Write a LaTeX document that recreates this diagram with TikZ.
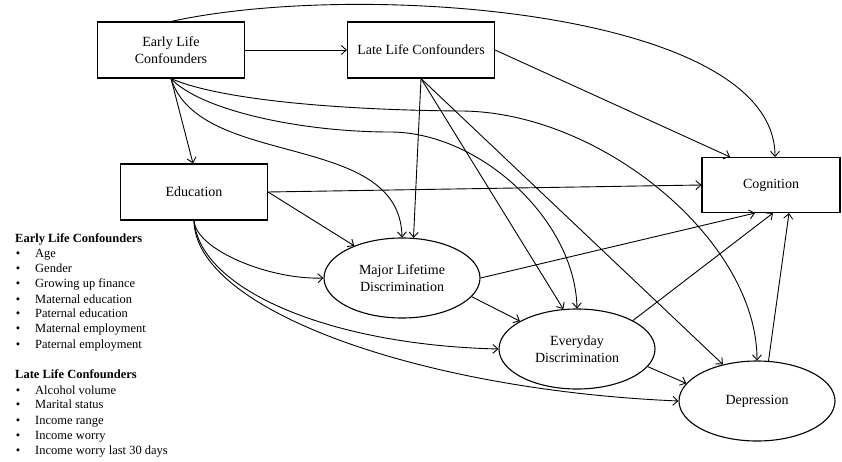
\documentclass[tikz,border=0pt]{standalone}
\usepackage{fontspec}
\setmainfont{Liberation Serif}
\usetikzlibrary{arrows.meta,shapes.geometric}
\begin{document}
\begin{tikzpicture}[x=1pt,y=-1pt,
 box/.style={draw,line width=1.1pt,minimum width=147pt,minimum height=56pt,inner sep=0pt,align=center,font=\fontsize{14}{17}\selectfont},
 oval/.style={draw,ellipse,line width=1.1pt,minimum width=156pt,minimum height=80pt,inner sep=0pt,align=center,font=\fontsize{14}{17}\selectfont},
 arr/.style={line width=0.9pt,-{Straight Barb[length=5pt,width=9pt]}},
 leg/.style={anchor=base west,inner sep=0pt,font=\fontsize{12.5}{15}\selectfont},
 bul/.style={anchor=base,inner sep=0pt,font=\fontsize{12.5}{15}\selectfont},
 ]
\useasboundingbox (0,0) rectangle (842,462);
\fill[white] (0,0) rectangle (842,462);
% nodes
\node[box] (early) at (171,50) {Early Life\\Confounders};
\node[box] (late) at (421,50) {Late Life Confounders};
\node[box] (edu) at (194,192) {Education};
\node[box,minimum width=138pt,minimum height=55pt] (cog) at (771,185) {Cognition};
\node[oval] (major) at (402,278) {Major Lifetime\\Discrimination};
\node[oval] (every) at (577,349) {Everyday\\Discrimination};
\node[oval] (dep) at (757,401) {Depression};
\coordinate (dmid) at (460,111);
\coordinate (emid) at (390,132);
% connectors
\draw[arr] (early.east) -- (late.west);
\draw[arr] (early.north) .. controls (360,-20) and (775,10) .. ([xshift=4pt]cog.north);
\draw[arr] (early.south) -- ([xshift=-1pt]edu.north);
\draw[arr] (early.south) .. controls (200,170) and (400,130) .. (major.north);
\draw[arr] (early.south) .. controls (200,110) and (300,132) .. (emid)
  .. controls (480,132) and (575,220) .. (every.north);
\draw[arr] (early.south) .. controls (220,100) and (340,110) .. (dmid)
  .. controls (600,111) and (757,240) .. (dep.north);
\draw[arr] (late.east) -- ([xshift=-41pt]cog.north);
\draw[arr] (late.south) -- (major.74);
\draw[arr] (late.south) -- (every.109);
\draw[arr] (late.south) -- (dep.133);
\draw[arr] (edu.east) -- (cog.west);
\draw[arr] (edu.east) -- (major.146);
\draw[arr] (edu.south) .. controls (196,250) and (270,280) .. (major.west);
\draw[arr] (edu.south) .. controls (200,290) and (330,345) .. (every.west);
\draw[arr] (edu.south) .. controls (195,310) and (420,390) .. (dep.west);
\draw[arr] (major.east) -- ([xshift=-16pt]cog.south);
\draw[arr] (major.-15) -- (every.154);
\draw[arr] (every.27) -- ([xshift=2pt]cog.south);
\draw[arr] (every.-14) -- (dep.166);
\draw[arr] (dep.74) -- ([xshift=18pt]cog.south);
% legend
\node[leg,font=\fontsize{12.5}{15}\selectfont\bfseries] (h1) at (15,242) {Early Life Confounders};
\node[bul] (b1) at (18,257) {•}; \node[leg] (t1) at (35,257) {Age};
\node[bul] (b2) at (18,272) {•}; \node[leg] (t2) at (35,272) {Gender};
\node[bul] (b3) at (18,287) {•}; \node[leg] (t3) at (35,287) {Growing up finance};
\node[bul] (b4) at (18,303) {•}; \node[leg] (t4) at (35,303) {Maternal education};
\node[bul] (b5) at (18,317) {•}; \node[leg] (t5) at (35,317) {Paternal education};
\node[bul] (b6) at (18,332) {•}; \node[leg] (t6) at (35,332) {Maternal employment};
\node[bul] (b7) at (18,348) {•}; \node[leg] (t7) at (35,348) {Paternal employment};
\node[leg,font=\fontsize{12.5}{15}\selectfont\bfseries] (h2) at (15,378) {Late Life Confounders};
\node[bul] (c1) at (18,394) {•}; \node[leg] (u1) at (35,394) {Alcohol volume};
\node[bul] (c2) at (18,408) {•}; \node[leg] (u2) at (35,408) {Marital status};
\node[bul] (c3) at (18,424) {•}; \node[leg] (u3) at (35,424) {Income range};
\node[bul] (c4) at (18,439) {•}; \node[leg] (u4) at (35,439) {Income worry};
\node[bul] (c5) at (18,454) {•}; \node[leg] (u5) at (35,454) {Income worry last 30 days};
\end{tikzpicture}
\end{document}
